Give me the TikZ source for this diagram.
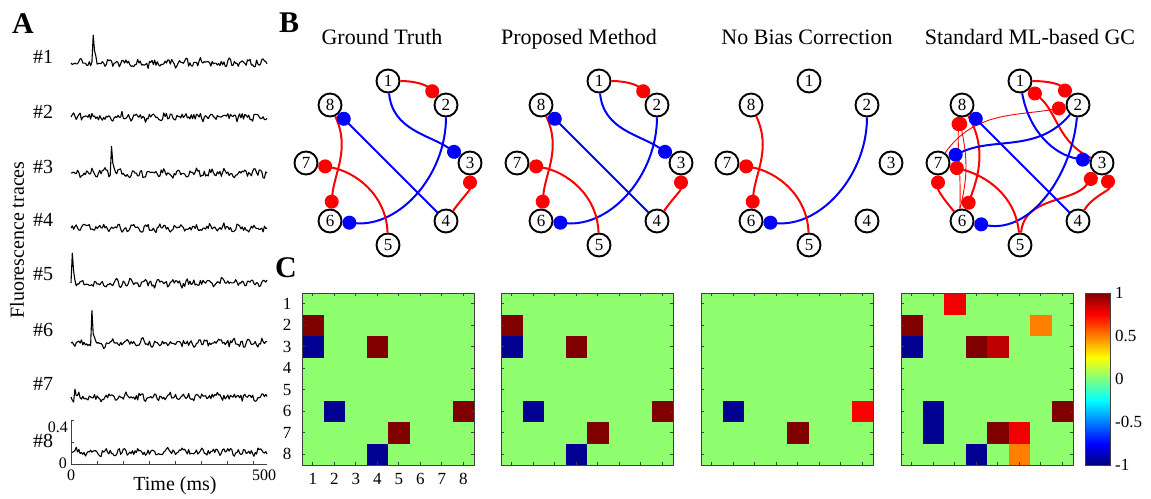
\documentclass[tikz,border=0pt]{standalone}
\usepackage{fontspec}
\setmainfont{Liberation Serif}
\usetikzlibrary{arrows.meta}
\definecolor{jg}{RGB}{143,255,112}
\definecolor{jdr}{RGB}{128,0,0}
\definecolor{jdb}{RGB}{0,0,145}
\definecolor{jr}{RGB}{240,0,0}
\definecolor{jr2}{RGB}{190,0,0}
\definecolor{jor}{RGB}{255,128,0}
\definecolor{jbr}{RGB}{255,0,0}
\definecolor{er}{RGB}{255,0,0}
\definecolor{eb}{RGB}{0,0,255}
\definecolor{fr}{gray}{0.25}
\newcommand\mkgraph[2]{%
  \foreach \k in {1,...,8} {
    \node[gnode] (#1\k) at ({#2+82*cos(90-45*(\k-1))},{-163+82*sin(90-45*(\k-1))}) {\k};
  }}
\newcommand\cel[4]{\fill[#4] ({#1+21.5*(#3-1)},{-293-21.5*(#2-1)}) rectangle ++(21.5,-21.5);}
\newcommand\trace[5]{%
  \pgfmathsetseed{#4}
  \draw[tr] (71,{-(#1)}) \foreach \i in {1,...,150}{ -- ({71+\i*1.307},{-(#1) + #5*rand + 1.6*sin(\i*31+57*#4) + 1.2*sin(\i*67+91*#4) + #3*exp(-max(\i-#2,0)/0.9)*(\i>#2-0.5)}) };
}
\begin{document}
\begin{tikzpicture}[x=1pt,y=1pt,
  gnode/.style={circle,draw,line width=1.9pt,fill=white,minimum size=23pt,inner sep=0pt,font=\fontsize{17}{17}\selectfont},
  ex/.style={draw=er,line width=2pt,-{Circle[length=14pt,width=14pt]}},
  exthin/.style={ex,line width=0.9pt},
  inh/.style={draw=eb,line width=2pt,-{Circle[length=14pt,width=14pt]}},
  ttl/.style={font=\fontsize{22}{22}\selectfont,anchor=base,inner sep=0pt},
  letter/.style={font=\fontsize{30}{30}\selectfont\bfseries,anchor=base west,inner sep=0pt},
  lab/.style={font=\fontsize{20}{20}\selectfont,inner sep=0pt},
  tick/.style={font=\fontsize{16}{16}\selectfont,inner sep=0pt},
  mlab/.style={font=\fontsize{17}{17}\selectfont,inner sep=0pt},
  tr/.style={line width=1.1pt,line join=round},
  ax/.style={draw=fr,line width=0.9pt},
  frm/.style={draw=fr,line width=0.9pt},
  tk/.style={draw=fr,line width=0.6pt}]
\useasboundingbox (0,0) rectangle (1151,-498);

% ---------- Panel letters ----------
\node[letter] (LA) at (12,-33) {A};
\node[letter] (LB) at (279,-32) {B};
\node[letter] (LC) at (275,-277) {C};

% ---------- Panel A ----------
\node[lab,rotate=90] (ylab) at (17,-240) {Fluorescence traces};
\foreach \n/\y in {1/57,2/112,3/167,4/220,5/274,6/330,7/384,8/441} {
  \node[lab] (h\n) at (43,-\y) {\#\n};
}
\trace{63}{17}{28}{11}{3}
\trace{117}{999}{0}{12}{3}
\trace{173}{31}{30}{13}{3}
\trace{228}{999}{0}{14}{2.6}
\trace{283}{1}{30}{15}{2.8}
\trace{343}{16}{31}{16}{3}
\trace{397}{3}{9}{17}{2.8}
\trace{452}{999}{0}{18}{2.8}
\draw[ax] (71,-420) -- (71,-464) -- (267,-464);
\draw[ax] (71,-420) -- ++(3,0) (71,-442) -- ++(3,0);
\foreach \k in {1,...,7} { \draw[ax] ({71+26*\k},-464) -- ++(0,3); }
\node[tick,anchor=east] (y04) at (68,-427) {0.4};
\node[tick,anchor=east] (y0) at (67,-463) {0};
\node[tick] (x0) at (71,-475) {0};
\node[tick] (x500) at (264,-475) {500};
\node[lab] (xlab) at (175,-486) {Time (ms)};

% ---------- Panel B ----------
\node[ttl] (t1) at (382,-44) {Ground Truth};
\node[ttl] (t2) at (579,-44) {Proposed Method};
\node[ttl] (t3) at (807,-44) {No Bias Correction};
\node[ttl] (t4) at (1030,-44) {Standard ML-based GC};

\mkgraph{a}{388}
\mkgraph{b}{599}
\mkgraph{c}{809}
\mkgraph{d}{1020}

\foreach \g in {a,b} {
  \draw[ex] (\g1) to[out=0,in=135] (\g2);
  \draw[inh] (\g1) to[out=-85,in=145] (\g3);
  \draw[ex] (\g4) to[out=55,in=-90] (\g3);
  \draw[inh] (\g2) to[out=-90,in=-5] (\g6);
  \draw[ex] (\g8) to[out=-65,in=85] (\g6);
  \draw[ex] (\g5) to[out=92,in=-10] (\g7);
  \draw[inh] (\g4) -- (\g8);
}

\draw[inh] (c2) to[out=-90,in=-5] (c6);
\draw[ex] (c8) to[out=-65,in=85] (c6);
\draw[ex] (c5) to[out=92,in=-10] (c7);

\draw[ex] (d1) to[out=0,in=132] (d2);
\draw[exthin] (d7) to[out=55,in=190] (d2);
\draw[ex] (d3) to[out=155,in=-40] (d1);
\draw[inh] (d1) to[out=-80,in=170] (d3);
\draw[ex] (d4) to[out=60,in=-72] (d3);
\draw[ex] (d5) to[out=85,in=-125] (d3);
\draw[inh] (d2) to[out=-95,in=-10] (d6);
\draw[ex] (d8) to[out=-60,in=70] (d6);
\draw[exthin] (d6.100) to[out=75,in=-78] (d8.-105);
\draw[exthin] (d6.100) to[out=88,in=-92] (d8.-105);
\draw[inh] (d2) to[out=-130,in=25] (d7);
\draw[ex] (d5) to[out=95,in=-15] (d7);
\draw[ex] (d6) to[out=130,in=-90] (d7);
\draw[inh] (d4) -- (d8);

% ---------- Panel C ----------
\foreach \L in {302,501,701,901} { \fill[jg] (\L,-293) rectangle ++(172,-172); }
\foreach \L in {302,501} {
  \cel{\L}{2}{1}{jdr} \cel{\L}{3}{1}{jdb} \cel{\L}{3}{4}{jdr}
  \cel{\L}{6}{2}{jdb} \cel{\L}{6}{8}{jdr} \cel{\L}{7}{5}{jdr} \cel{\L}{8}{4}{jdb}
}
\cel{701}{6}{2}{jdb} \cel{701}{6}{8}{jbr} \cel{701}{7}{5}{jdr}
\cel{901}{1}{3}{jr} \cel{901}{2}{1}{jdr} \cel{901}{2}{7}{jor}
\cel{901}{3}{1}{jdb} \cel{901}{3}{4}{jdr} \cel{901}{3}{5}{jr2}
\cel{901}{6}{2}{jdb} \cel{901}{7}{2}{jdb} \cel{901}{6}{8}{jdr}
\cel{901}{7}{5}{jdr} \cel{901}{7}{6}{jr} \cel{901}{8}{4}{jdb} \cel{901}{8}{6}{jor}
\foreach \L in {302,501,701,901} {
  \draw[frm] (\L,-293) rectangle ++(172,-172);
  \foreach \k in {1,...,8} {
    \draw[tk] ({\L+21.5*(\k-0.5)},-293) -- ++(0,-3);
    \draw[tk] ({\L+21.5*(\k-0.5)},-465) -- ++(0,3);
    \draw[tk] (\L,{-293-21.5*(\k-0.5)}) -- ++(3,0);
    \draw[tk] ({\L+172},{-293-21.5*(\k-0.5)}) -- ++(-3,0);
  }
}
\foreach \k in {1,...,8} {
  \node[mlab] (r\k) at (287,{-293-21.5*(\k-0.5)}) {\k};
  \node[mlab] (c\k) at ({302+21.5*(\k-0.5)},-479) {\k};
}
% colorbar
\shade[bottom color={rgb,1:red,0;green,0;blue,0.5}, top color={rgb,1:red,0;green,0;blue,1}] (1085,-465) rectangle (1110,-443.5);
\shade[bottom color={rgb,1:red,0;green,0;blue,1}, top color={rgb,1:red,0;green,1;blue,1}] (1085,-443.5) rectangle (1110,-400.5);
\shade[bottom color={rgb,1:red,0;green,1;blue,1}, top color={rgb,1:red,1;green,1;blue,0}] (1085,-400.5) rectangle (1110,-357.5);
\shade[bottom color={rgb,1:red,1;green,1;blue,0}, top color={rgb,1:red,1;green,0;blue,0}] (1085,-357.5) rectangle (1110,-314.5);
\shade[bottom color={rgb,1:red,1;green,0;blue,0}, top color={rgb,1:red,0.5;green,0;blue,0}] (1085,-314.5) rectangle (1110,-293);
\draw[frm] (1085,-293) rectangle (1110,-465);
\foreach \v/\t in {293/1,336/0.5,379/0,422/-0.5,465/-1} {
  \node[mlab,anchor=west] (cb\v) at (1115,-\v) {\t};
}
\end{tikzpicture}
\end{document}
